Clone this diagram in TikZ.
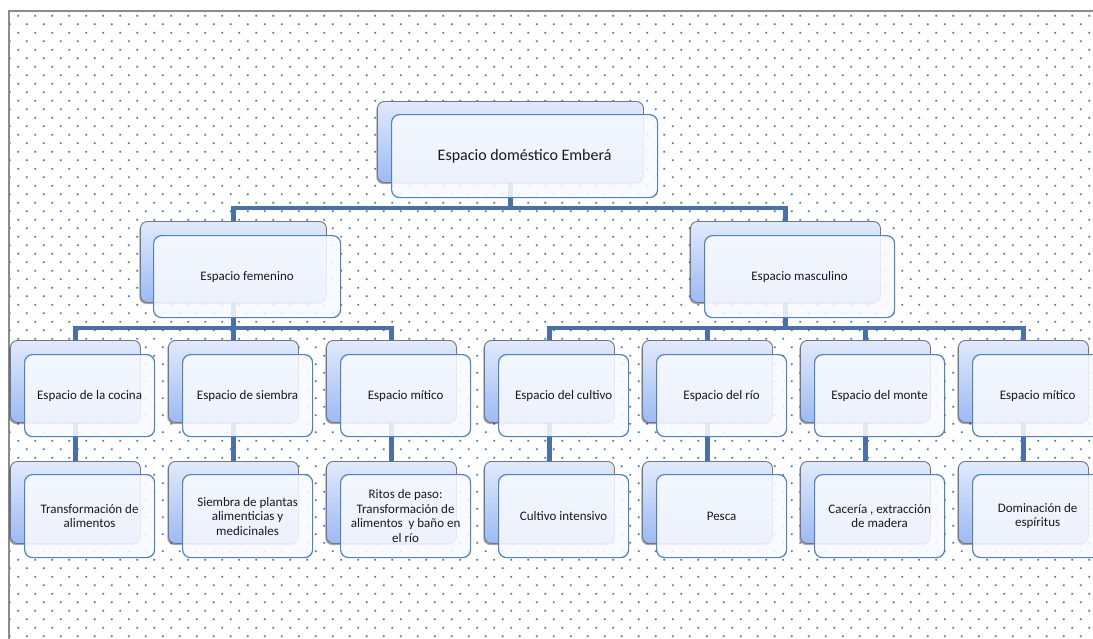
\documentclass[tikz,border=0pt]{standalone}
\usepackage{fontspec}
\setmainfont{Carlito}
\usetikzlibrary{shadows,calc}
\pgfdeclarelayer{bg}
\pgfsetlayers{bg,main}
\definecolor{dotc}{RGB}{68,114,196}
\definecolor{connc}{RGB}{74,112,166}
\definecolor{frontb}{RGB}{79,129,189}
\definecolor{backb}{RGB}{118,118,118}
\definecolor{frontf}{RGB}{248,250,255}
\definecolor{backtop}{RGB}{225,234,252}
\definecolor{backbot}{RGB}{156,186,243}
\definecolor{framec}{RGB}{140,140,140}
\definecolor{txt}{RGB}{25,25,25}
\begin{document}
\begin{tikzpicture}[x=1pt,y=-1pt,
  bk/.style={draw=backb, line width=0.9pt, rounded corners=7pt,
    top color=backtop, bottom color=backbot, anchor=north west,
    minimum width=130pt, minimum height=82pt, inner sep=0pt,
    drop shadow={shadow xshift=-1.2pt, shadow yshift=-1.6pt, opacity=0.35, fill=black}},
  ft/.style={draw=frontb, line width=1.2pt, rounded corners=8pt,
    fill=frontf, fill opacity=0.87, text opacity=1, text=txt, anchor=north west,
    minimum width=130pt, minimum height=82pt, inner sep=2pt, align=center,
    font=\fontsize{13}{14.5}\selectfont},
  conn/.style={draw=connc, line width=4.2pt}]
\useasboundingbox (0,0) rectangle (1093,638);
\clip (0,0) rectangle (1093,638);

% root
\node[bk, minimum width=266pt, minimum height=81pt] (rB) at (377,101) {};
\node[ft, minimum width=266pt, minimum height=83pt, font=\fontsize{16}{18}\selectfont] (rF) at (391,114) {Espacio doméstico Emberá};

% level 1
\node[bk, minimum width=186pt, minimum height=81pt] (fB) at (140,221) {};
\node[ft, minimum width=187pt, minimum height=82pt] (fF) at (153,235) {Espacio femenino};
\node[bk, minimum width=190pt, minimum height=81pt] (mB) at (690,221) {};
\node[ft, minimum width=190pt, minimum height=82pt] (mF) at (704,235) {Espacio masculino};

% level 2
\node[bk] (c1B) at (10,340) {};
\node[ft] (c1F) at (24,354) {Espacio de la cocina};
\node[bk] (c2B) at (168,340) {};
\node[ft] (c2F) at (182,354) {Espacio de siembra};
\node[bk] (c3B) at (326,340) {};
\node[ft] (c3F) at (340,354) {Espacio mítico};
\node[bk] (c4B) at (484,340) {};
\node[ft] (c4F) at (498,354) {Espacio del cultivo};
\node[bk] (c5B) at (642,340) {};
\node[ft] (c5F) at (656,354) {Espacio del río};
\node[bk] (c6B) at (800,340) {};
\node[ft] (c6F) at (814,354) {Espacio del monte};
\node[bk] (c7B) at (958,340) {};
\node[ft] (c7F) at (972,354) {Espacio mítico};

% level 3
\node[bk] (d1B) at (10,461) {};
\node[ft, minimum height=83pt] (d1F) at (24,474) {Transformación de\\alimentos};
\node[bk] (d2B) at (168,461) {};
\node[ft, minimum height=83pt] (d2F) at (182,474) {Siembra de plantas\\alimenticias y\\medicinales};
\node[bk] (d3B) at (326,461) {};
\node[ft, minimum height=83pt] (d3F) at (340,474) {Ritos de paso:\\Transformación de\\alimentos\ \ y baño en\\el río};
\node[bk] (d4B) at (484,461) {};
\node[ft, minimum height=83pt] (d4F) at (498,474) {Cultivo intensivo};
\node[bk] (d5B) at (642,461) {};
\node[ft, minimum height=83pt] (d5F) at (656,474) {Pesca};
\node[bk] (d6B) at (800,461) {};
\node[ft, minimum height=83pt] (d6F) at (814,474) {Cacería , extracción\\de madera};
\node[bk] (d7B) at (958,461) {};
\node[ft, minimum height=83pt] (d7F) at (972,474) {Dominación de\\espíritus};

\coordinate (busA) at (0,208);
\coordinate (busF) at (0,328);

\begin{pgfonlayer}{bg}
  % white page and frame
  \fill[white] (0,0) rectangle (1093,638);
  \fill[dotc] \foreach \i in {0,...,63} { \foreach \j in {0,...,37} {
      (18.3+17*\i-0.85, 15.7+17*\j-0.85) rectangle ++(1.7,1.7)
      (9.8+17*\i-0.85, 24.2+17*\j-0.85) rectangle ++(1.7,1.7) } };
  \draw[framec, line width=1.6pt] (9,660) -- (9,11) -- (1120,11);
  % connectors
  \draw[conn] (rB.center) -- (rB.center |- busA) -| (fB.center);
  \draw[conn] (rB.center |- busA) -| (mB.center);
  \draw[conn] (fB.center) -- (fB.center |- busF) -| (c1B.center);
  \draw[conn] (fB.center |- busF) -| (c2B.center);
  \draw[conn] (fB.center |- busF) -| (c3B.center);
  \draw[conn] (mB.center) -- (mB.center |- busF) -| (c4B.center);
  \draw[conn] (mB.center |- busF) -| (c5B.center);
  \draw[conn] (mB.center |- busF) -| (c6B.center);
  \draw[conn] (mB.center |- busF) -| (c7B.center);
  \draw[conn] (c1B.center) -- (d1B.center);
  \draw[conn] (c2B.center) -- (d2B.center);
  \draw[conn] (c3B.center) -- (d3B.center);
  \draw[conn] (c4B.center) -- (d4B.center);
  \draw[conn] (c5B.center) -- (d5B.center);
  \draw[conn] (c6B.center) -- (d6B.center);
  \draw[conn] (c7B.center) -- (d7B.center);
\end{pgfonlayer}
\end{tikzpicture}
\end{document}
